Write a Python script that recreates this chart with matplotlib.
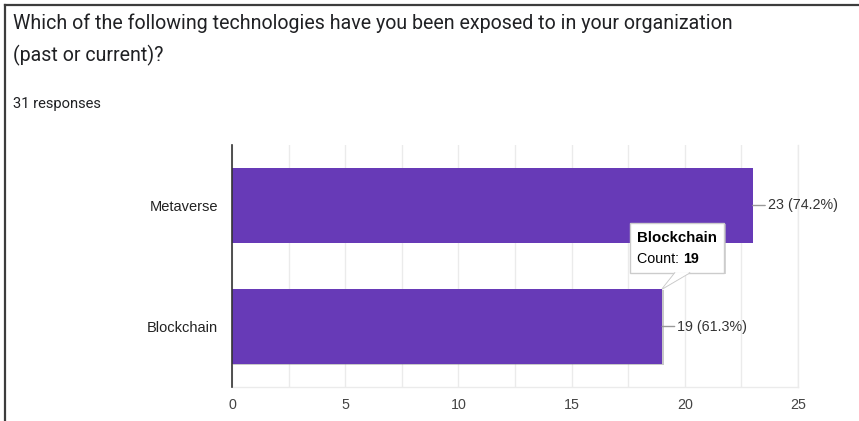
import matplotlib
matplotlib.use("Agg")
import matplotlib.pyplot as plt
import matplotlib.patheffects as pe
from matplotlib.patches import Polygon, FancyBboxPatch

# Survey data
title_lines = ["Which of the following technologies have you been exposed to in your organization",
               "(past or current)?"]
responses_label = "31 responses"
categories = ["Blockchain", "Metaverse"]
counts = [19, 23]
percents = [61.3, 74.2]
total_responses = 31
x_ticks = [0, 5, 10, 15, 20, 25]
highlighted = "Blockchain"

W, H = 859, 421
fig = plt.figure(figsize=(W / 100, H / 100), dpi=100)
fig.patch.set_facecolor("white")


def fx(px):
    return px / W


def fy(py):
    return 1 - py / H


# Card border (top and left edges)
fig.add_artist(plt.Line2D([fx(5), fx(5)], [fy(5), 0], color="#3c3c3c", lw=1.6,
                          transform=fig.transFigure))
fig.add_artist(plt.Line2D([fx(5), 1], [fy(5), fy(5)], color="#3c3c3c", lw=1.6,
                          transform=fig.transFigure))

# Header text
fig.text(fx(13), fy(23), title_lines[0], fontsize=14.1, family="Roboto",
         color="#202124", va="center", ha="left")
fig.text(fx(13), fy(55), title_lines[1], fontsize=14.1, family="Roboto",
         color="#202124", va="center", ha="left")
fig.text(fx(13), fy(104), responses_label, fontsize=10.6, family="Roboto",
         color="#202124", va="center", ha="left")

# Chart area
ax = fig.add_axes([fx(232), fy(387), fx(798) - fx(232), fy(145) - fy(387)])
ax.set_xlim(0, 25)
ax.set_ylim(-0.5, 1.5)

bar_color = "#673ab7"
ypos = list(range(len(categories)))
bars = ax.barh(ypos, counts, height=0.62, color=bar_color, zorder=3)
for b, cat in zip(bars, categories):
    if cat == highlighted:
        b.set_path_effects([pe.SimplePatchShadow(offset=(1.0, -1.0),
                                                 shadow_rgbFace="#777777", alpha=0.4),
                            pe.Normal()])

# Grid every 2.5 units
ax.set_xticks(x_ticks)
ax.set_xticks([t + 2.5 for t in x_ticks[:-1]], minor=True)
ax.grid(True, axis="x", which="both", color="#ebebeb", lw=1, zorder=0)
ax.tick_params(axis="x", which="both", length=0, pad=8, labelsize=10.3,
               labelcolor="#444444")
ax.tick_params(axis="y", length=0, pad=10, labelsize=10.5, labelcolor="#222222")
ax.set_yticks(ypos)
ax.set_yticklabels(categories)
for lbl in ax.get_xticklabels() + ax.get_yticklabels():
    lbl.set_family("Liberation Sans")

for side in ["top", "right", "bottom"]:
    ax.spines[side].set_color("#ebebeb")
    ax.spines[side].set_linewidth(1)
ax.spines["top"].set_visible(False)
ax.spines["left"].set_color("#333333")
ax.spines["left"].set_linewidth(1.2)
ax.spines["left"].set_zorder(4)

# Value labels with leader lines
for y, c, p in zip(ypos, counts, percents):
    ax.annotate(f"{c} ({p}%)", xy=(c, y), xytext=(11, 0), textcoords="offset points",
                ha="left", va="center", fontsize=10.3, family="Liberation Sans",
                color="#333333",
                arrowprops=dict(arrowstyle="-", color="#999999", lw=1,
                                shrinkA=0, shrinkB=0))

# Hover tooltip on the highlighted bar
hi = categories.index(highlighted)
tip_x, tip_y = counts[hi], ypos[hi] + 0.31
tip = ax.transData.transform((tip_x, tip_y))
inv = fig.transFigure.inverted()


def box_pt(dx, dy):
    return inv.transform((tip[0] + dx, tip[1] + dy))


bx0, by0 = box_pt(-32, 16)
bx1, by1 = box_pt(62, 66)
shadow = FancyBboxPatch((bx0 + 1.5 / W, by0 - 1.5 / H), bx1 - bx0, by1 - by0,
                        boxstyle="square,pad=0", transform=fig.transFigure,
                        fc="#bdbdbd", ec="none", alpha=0.6, zorder=10)
box = FancyBboxPatch((bx0, by0), bx1 - bx0, by1 - by0, boxstyle="square,pad=0",
                     transform=fig.transFigure, fc="white", ec="#cccccc", lw=1,
                     zorder=11)
fig.add_artist(shadow)
fig.add_artist(box)
pointer = Polygon([box_pt(13, 16.5), box_pt(0, 0), box_pt(28, 16.5)], closed=False,
                  transform=fig.transFigure, fc="white", ec="#cccccc", lw=1, zorder=12)
fig.add_artist(pointer)
cover = Polygon([box_pt(13.5, 16.5), box_pt(1, 1), box_pt(27.5, 16.5)], closed=True,
                transform=fig.transFigure, fc="white", ec="none", zorder=12)
fig.add_artist(cover)

t1x, t1y = box_pt(-25, 51)
fig.text(t1x, t1y, highlighted, fontsize=10.8, weight="bold", family="Liberation Sans",
         color="#000000", va="center", ha="left", zorder=13)
t2x, t2y = box_pt(-25, 30)
t = fig.text(t2x, t2y, "Count: ", fontsize=10.3, family="Liberation Sans",
             color="#000000", va="center", ha="left", zorder=13)
fig.canvas.draw()
ext = t.get_window_extent()
fig.text(inv.transform((ext.x1, 0))[0], t2y, str(counts[hi]), fontsize=10.3,
         weight="bold", family="Liberation Sans", color="#000000", va="center",
         ha="left", zorder=13)

fig.savefig("out.png", dpi=100, facecolor="white")
